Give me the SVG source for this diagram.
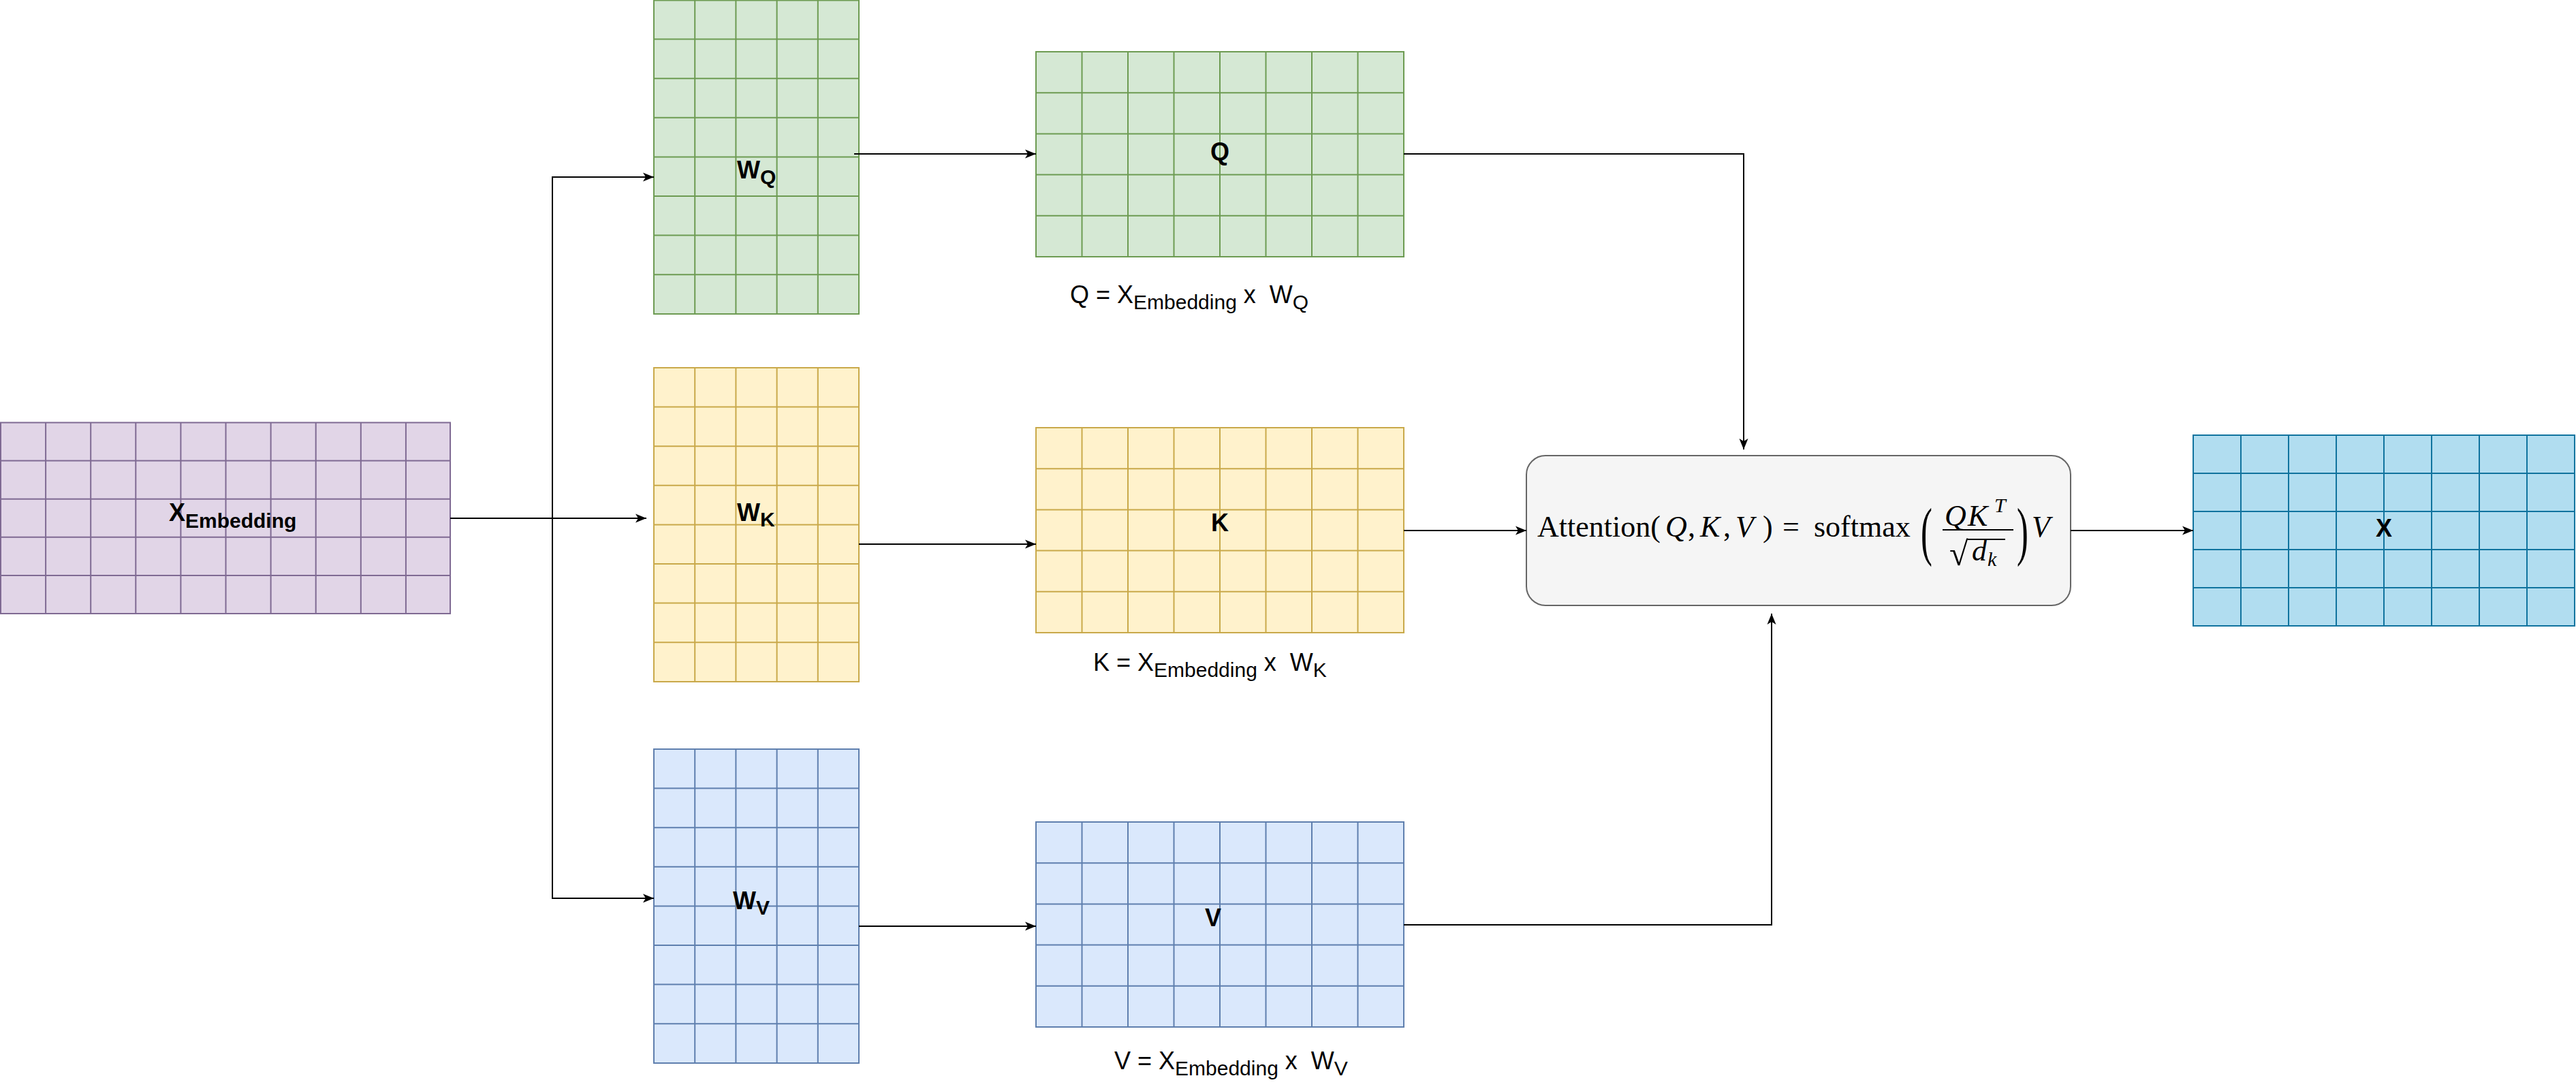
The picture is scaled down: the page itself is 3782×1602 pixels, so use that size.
<svg xmlns="http://www.w3.org/2000/svg" width="3782" height="1602" viewBox="0 0 3782 1602">
<style>
.lbl{font-family:"Liberation Sans",Arial,sans-serif;font-weight:bold;font-size:36px;fill:#000}
.frm{font-family:"Liberation Sans",Arial,sans-serif;font-size:36px;fill:#000}
.sub{font-size:30px}
.math{font-family:"Liberation Serif","Times New Roman",serif;font-size:44px;fill:#000}
.paren{font-size:46px}
.small{font-size:30px}
.rad{font-size:50px}
.it{font-style:italic}
.edge{fill:none;stroke:#000;stroke-width:2;marker-end:url(#arr)}
.gl{fill:none;stroke-width:2}
.purple{fill:#e1d5e7;stroke:#7f6a93}
.green{fill:#d5e8d4;stroke:#6d9b52}
.yellow{fill:#fff2cc;stroke:#c9a94a}
.blue{fill:#dae8fc;stroke:#5f7fae}
.cyan{fill:#b1ddf0;stroke:#10739e}
</style>
<defs>
<marker id="arr" markerUnits="userSpaceOnUse" markerWidth="18" markerHeight="14" refX="16" refY="7" orient="auto">
<path d="M0,0.5 L16,7 L0,13.5 L4,7 Z" fill="#000"/>
</marker>
</defs>
<rect width="3782" height="1602" fill="#fff"/>

<g id="x-embedding">
<rect class="purple" x="1" y="620.5" width="660" height="280.5" stroke-width="2"/>
<path class="gl" stroke="#7f6a93" d="M67.1,620.5V901M133.2,620.5V901M199.3,620.5V901M265.4,620.5V901M331.5,620.5V901M397.6,620.5V901M463.7,620.5V901M529.8,620.5V901M595.9,620.5V901M1,676.6H661M1,732.7H661M1,788.8H661M1,844.9H661"/>
<text class="lbl" x="248" y="765">X<tspan class="sub" dy="10">Embedding</tspan></text>
</g>

<g id="w-q">
<rect class="green" x="960" y="0.5" width="301" height="460.5" stroke-width="2"/>
<path class="gl" stroke="#6d9b52" d="M1020.2,0V461M1080.4,0V461M1140.6,0V461M1200.8,0V461M960,57.6H1261M960,115.2H1261M960,172.8H1261M960,230.4H1261M960,288H1261M960,345.6H1261M960,403.2H1261"/>
<text class="lbl" x="1082" y="262">W<tspan class="sub" dy="8">Q</tspan></text>
</g>

<g id="w-k">
<rect class="yellow" x="960" y="540" width="301" height="461" stroke-width="2"/>
<path class="gl" stroke="#c9a94a" d="M1020.2,540V1001M1080.4,540V1001M1140.6,540V1001M1200.8,540V1001M960,597.6H1261M960,655.2H1261M960,712.8H1261M960,770.4H1261M960,828H1261M960,885.6H1261M960,943.2H1261"/>
<text class="lbl" x="1082" y="765">W<tspan class="sub" dy="8">K</tspan></text>
</g>

<g id="w-v">
<rect class="blue" x="960" y="1100" width="301" height="461" stroke-width="2"/>
<path class="gl" stroke="#5f7fae" d="M1020.2,1100V1561M1080.4,1100V1561M1140.6,1100V1561M1200.8,1100V1561M960,1157.6H1261M960,1215.2H1261M960,1272.8H1261M960,1330.4H1261M960,1388H1261M960,1445.6H1261M960,1503.2H1261"/>
<text class="lbl" x="1076" y="1335">W<tspan class="sub" dy="8">V</tspan></text>
</g>

<g id="q">
<rect class="green" x="1521" y="76" width="540" height="301" stroke-width="2"/>
<path class="gl" stroke="#6d9b52" d="M1588.5,76V377M1656,76V377M1723.5,76V377M1791,76V377M1858.5,76V377M1926,76V377M1993.5,76V377M1521,136.2H2061M1521,196.4H2061M1521,256.6H2061M1521,316.8H2061"/>
<text class="lbl" x="1777" y="235">Q</text>
</g>
<text id="q-formula" class="frm" x="1571" y="445">Q = X<tspan class="sub" dy="9">Embedding</tspan><tspan dy="-9" xml:space="preserve"> x  W</tspan><tspan class="sub" dy="9">Q</tspan></text>

<g id="k">
<rect class="yellow" x="1521" y="628" width="540" height="301" stroke-width="2"/>
<path class="gl" stroke="#c9a94a" d="M1588.5,628V929M1656,628V929M1723.5,628V929M1791,628V929M1858.5,628V929M1926,628V929M1993.5,628V929M1521,688.2H2061M1521,748.4H2061M1521,808.6H2061M1521,868.8H2061"/>
<text class="lbl" x="1778" y="780">K</text>
</g>
<text id="k-formula" class="frm" x="1605" y="985">K = X<tspan class="sub" dy="9">Embedding</tspan><tspan dy="-9" xml:space="preserve"> x  W</tspan><tspan class="sub" dy="9">K</tspan></text>

<g id="v">
<rect class="blue" x="1521" y="1207" width="540" height="301" stroke-width="2"/>
<path class="gl" stroke="#5f7fae" d="M1588.5,1207V1508M1656,1207V1508M1723.5,1207V1508M1791,1207V1508M1858.5,1207V1508M1926,1207V1508M1993.5,1207V1508M1521,1267.2H2061M1521,1327.4H2061M1521,1387.6H2061M1521,1447.8H2061"/>
<text class="lbl" x="1769" y="1360">V</text>
</g>
<text id="v-formula" class="frm" x="1636" y="1570">V = X<tspan class="sub" dy="9">Embedding</tspan><tspan dy="-9" xml:space="preserve"> x  W</tspan><tspan class="sub" dy="9">V</tspan></text>

<g id="attention">
<rect x="2241" y="669" width="799" height="220" rx="28" ry="28" fill="#f5f5f5" stroke="#666" stroke-width="2"/>
<text class="math" y="788"><tspan x="2257">Attention(</tspan><tspan class="it" x="2445">Q</tspan><tspan x="2478">,</tspan><tspan class="it" x="2496">K</tspan><tspan x="2530">,</tspan><tspan class="it" x="2548">V</tspan><tspan x="2588">)</tspan><tspan x="2617">=</tspan><tspan x="2663">softmax</tspan></text>
<text class="math paren" transform="translate(2820,812) scale(1.1,2.05)">(</text>
<text class="math it" y="772"><tspan x="2855">Q</tspan><tspan x="2889">K</tspan><tspan class="small" x="2928" y="752">T</tspan></text>
<line x1="2852" y1="778" x2="2956" y2="778" stroke="#000" stroke-width="2"/>
<text class="math rad" x="2862" y="830">√</text>
<line x1="2889" y1="792" x2="2944" y2="792" stroke="#000" stroke-width="2"/>
<text class="math it" y="823"><tspan x="2895">d</tspan><tspan class="small" x="2918" y="831">k</tspan></text>
<text class="math paren" transform="translate(2961,812) scale(1.1,2.05)">)</text>
<text class="math it" x="2983" y="788">V</text>
</g>

<g id="x-out">
<rect class="cyan" x="3220" y="639" width="560" height="280" stroke-width="2"/>
<path class="gl" stroke="#10739e" d="M3290,639V919M3360,639V919M3430,639V919M3500,639V919M3570,639V919M3640,639V919M3710,639V919M3220,695H3780M3220,751H3780M3220,807H3780M3220,863H3780"/>
<text class="lbl" x="3488" y="788">X</text>
</g>

<g id="connectors">
<path class="edge" d="M661,761H811V260H960"/>
<path class="edge" d="M661,761H811V1319H960"/>
<path class="edge" d="M661,761H949"/>
<path class="edge" d="M1254,226H1521"/>
<path class="edge" d="M1261,799H1521"/>
<path class="edge" d="M1261,1360H1521"/>
<path class="edge" d="M2061,226H2560V660"/>
<path class="edge" d="M2061,779H2241"/>
<path class="edge" d="M2061,1358H2601V901"/>
<path class="edge" d="M3040,779H3220"/>
</g>
</svg>
